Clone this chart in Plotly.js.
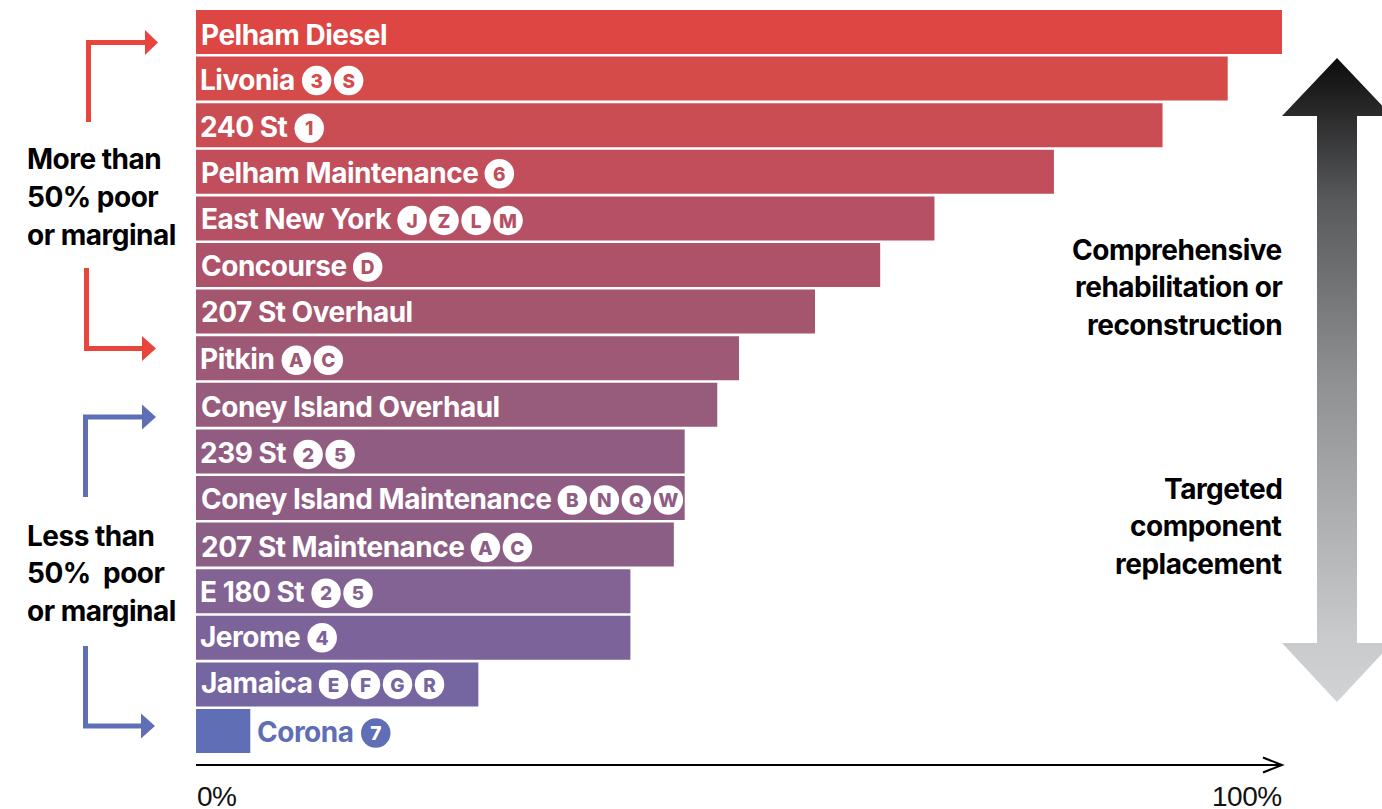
<!DOCTYPE html>
<html><head><meta charset="utf-8">
<script src="https://cdn.plot.ly/plotly-3.0.1.min.js"></script>
<style>html,body{margin:0;padding:0;background:#fff;overflow:hidden}#c{width:1382px;height:809px}
.annotation-text{letter-spacing:-0.5px}</style>
</head><body><div id="c"></div>
<script>
const stations=["Pelham Diesel","Livonia","240 St","Pelham Maintenance","East New York","Concourse","207 St Overhaul","Pitkin","Coney Island Overhaul","239 St","Coney Island Maintenance","207 St Maintenance","E 180 St","Jerome","Jamaica","Corona"];
const shares=[100,95,89,79,68,63,57,50,48,45,45,44,40,40,26,5];
const routes=[[],["3","S"],["1"],["6"],["J","Z","L","M"],["D"],[],["A","C"],[],["2","5"],["B","N","Q","W"],["A","C"],["2","5"],["4"],["E","F","G","R"],["7"]];
const barColors=["#dd4643","#d44b4a","#cb4d54","#c24e5b","#b65064","#ad5268","#a4566f","#9d5975","#975b7b","#915c81","#8f5d84","#8b5e86","#836393","#7c6399","#7565a1","#5f6eb5"];
const leftNotes=[["More than",159],["50% poor",197],["or marginal",235],["Less than",536],["50%  poor",573],["or marginal",611]];
const rightNotes=[["Comprehensive",250],["rehabilitation or",287],["reconstruction",325],["Targeted",489],["component",526],["replacement",564]];
const labelNudge=[3,1,2,1,1,1,0,1,2,2,1,2,1,-1,-1,1];
const axisLabels=["0%","100%"];

const W=1382,H=809,L=196,R=1282,T=8.7,B=754.3;
const FONT="Inter",FS=28,TRACK=-0.5;
const px=x=>x/W, py=y=>1-y/H, unit=100/(R-L);
const ctx=document.createElement('canvas').getContext('2d');
ctx.font=`700 ${FS}px "${FONT}"`;
ctx.letterSpacing=TRACK+'px';
const ann=[],bx=[],by=[],ty=[],bt=[],bc=[],bm=[];
stations.forEach((s,i)=>{
  const outside=shares[i]<10;
  const col=outside?barColors[i]:"#fff";
  ann.push({xref:'x',yref:'y',x:outside?shares[i]:0,y:i,xanchor:'left',yanchor:'middle',xshift:outside?6:3.5,yshift:-labelNudge[i],
    text:s,showarrow:false,borderpad:0,font:{family:FONT,size:FS,weight:700,color:col}});
  const start=(outside?shares[i]+8*unit:5*unit)+ctx.measureText(s).width*unit;
  routes[i].forEach((r,k)=>{
    bx.push(start+(6+15+32*k)*unit); by.push(i+(labelNudge[i]+1)/46.6); ty.push(i+(labelNudge[i]+3.5)/46.6); bt.push(r);
    bc.push(outside?"#fff":barColors[i]); bm.push(outside?barColors[i]:"#fff");
  });
});
const note=(t,x,y,a)=>({xref:'paper',yref:'paper',x:px(x),y:py(y),xanchor:a,yanchor:'middle',text:t,showarrow:false,borderpad:0,
  font:{family:FONT,size:28,weight:700,color:"#000"}});
leftNotes.forEach(n=>ann.push(note(n[0],26,n[1],'left')));
rightNotes.forEach(n=>ann.push(note(n[0],1283,n[1],'right')));
ann.push({xref:'x',yref:'paper',x:0,y:py(796),xanchor:'left',yanchor:'middle',text:axisLabels[0],showarrow:false,borderpad:0,font:{family:"Liberation Sans",size:28,color:"#111"}});
ann.push({xref:'x',yref:'paper',x:100,xshift:1,y:py(796),xanchor:'right',yanchor:'middle',text:axisLabels[1],showarrow:false,borderpad:0,font:{family:"Liberation Sans",size:28,color:"#111"}});

const shapePath=pts=>'M'+pts.map(p=>px(p[0]).toFixed(5)+','+py(p[1]).toFixed(5)).join('L');
const RED="#e8453c",BLUE="#5f6fb7";
function elbow(xv,yv,yh,xe,tip,hh,c){
  return [
   {type:'path',xref:'paper',yref:'paper',path:shapePath(yv<yh?
     [[xv,yv],[xv+5,yv],[xv+5,yh-2.5],[xe,yh-2.5],[xe,yh+2.5],[xv,yh+2.5]]:
     [[xv,yv],[xv+5,yv],[xv+5,yh+2.5],[xe,yh+2.5],[xe,yh-2.5],[xv,yh-2.5]])+'Z',fillcolor:c,line:{width:0}},
   {type:'path',xref:'paper',yref:'paper',path:shapePath([[xe,yh-hh],[tip,yh],[xe,yh+hh]])+'Z',fillcolor:c,line:{width:0}}
  ];
}
const shapes=[].concat(
  elbow(86,122,42.5,145,158,12.5,RED),
  elbow(84,268,348.5,142,156,12.5,RED),
  elbow(83,497,417,142,156,12.5,BLUE),
  elbow(83,646,726,141,155,12.5,BLUE),
  [{type:'path',xref:'paper',yref:'paper',path:shapePath([[1263,757.5],[1282,765],[1263,772.5]]),fillcolor:'rgba(0,0,0,0)',line:{color:'#000',width:2}}]
);

const arrowX=[1337,1392,1357,1357,1392,1337,1282,1317,1317,1282,1337];
const arrowY=[58,116,116,643,643,702,643,643,116,116,58];

const traces=[
 {type:'bar',orientation:'h',x:shares,y:stations.map((_,i)=>i),marker:{color:barColors,line:{width:0}},width:0.944,hoverinfo:'skip',xaxis:'x',yaxis:'y'},
 {type:'scatter',mode:'markers',x:bx,y:by,marker:{size:29.5,color:bm,line:{width:0}},hoverinfo:'skip',cliponaxis:false,xaxis:'x',yaxis:'y'},
 {type:'scatter',mode:'text',x:bx,y:ty,text:bt,textposition:'middle center',
  textfont:{family:"Inter",size:19,weight:800,color:bc},hoverinfo:'skip',cliponaxis:false,xaxis:'x',yaxis:'y'},
 {type:'scatter',mode:'none',x:arrowX,y:arrowY,fill:'toself',hoverinfo:'skip',xaxis:'x2',yaxis:'y2',
  fillgradient:{type:'vertical',start:58,stop:702,colorscale:[[0,'#0c0c0c'],[0.22,'#58595b'],[0.5,'#8f9092'],[0.9,'#c9cacc'],[1,'#d1d3d4']]}}
];
const layout={width:W,height:H,margin:{l:0,r:0,t:0,b:0},paper_bgcolor:'#fff',plot_bgcolor:'rgba(0,0,0,0)',showlegend:false,
 xaxis:{domain:[px(L),px(R)],range:[0,100],anchor:'free',position:(H-765)/H,showgrid:false,zeroline:false,showticklabels:false,ticks:'',showline:true,linecolor:'#000',linewidth:2},
 yaxis:{domain:[py(B),py(T)],range:[15.5,-0.5],showgrid:false,zeroline:false,showticklabels:false,ticks:'',showline:false},
 xaxis2:{domain:[0,1],range:[0,W],anchor:'y2',visible:false},
 yaxis2:{domain:[0,1],range:[H,0],anchor:'x2',visible:false},
 annotations:ann,shapes:shapes};
Plotly.newPlot('c',traces,layout,{staticPlot:true,displayModeBar:false});
</script></body></html>
